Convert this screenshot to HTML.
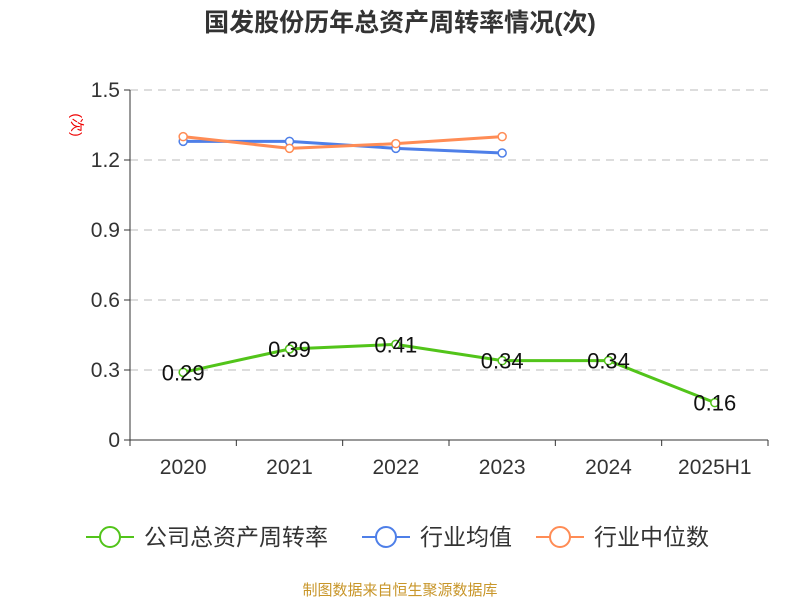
<!DOCTYPE html>
<html><head><meta charset="utf-8"><style>
body{margin:0;background:#fff;width:800px;height:600px;overflow:hidden;font-family:"Liberation Sans","Noto Sans CJK SC",sans-serif}
</style></head><body>
<svg width="800" height="600" xmlns="http://www.w3.org/2000/svg">
<text x="400" y="31" text-anchor="middle" font-size="25" font-weight="bold" fill="#333">国发股份历年总资产周转率情况(次)</text>
<text x="72" y="125" text-anchor="middle" font-size="14" fill="#e00" transform="rotate(90 72 125)">(次)</text>
<g id="grid"></g><g id="axes"></g><g id="series"></g>
<g>
 <g><line x1="86" y1="537" x2="134" y2="537" stroke="#52c41a" stroke-width="2"/><circle cx="110" cy="537" r="10" fill="#fff" stroke="#52c41a" stroke-width="2"/><text x="144" y="545" font-size="23" fill="#333">公司总资产周转率</text></g>
 <g><line x1="362" y1="537" x2="410" y2="537" stroke="#4e7fe8" stroke-width="2"/><circle cx="386" cy="537" r="10" fill="#fff" stroke="#4e7fe8" stroke-width="2"/><text x="420" y="545" font-size="23" fill="#333">行业均值</text></g>
 <g><line x1="536" y1="537" x2="584" y2="537" stroke="#ff8c55" stroke-width="2"/><circle cx="560" cy="537" r="10" fill="#fff" stroke="#ff8c55" stroke-width="2"/><text x="594" y="545" font-size="23" fill="#333">行业中位数</text></g>
</g>
<text x="400" y="595" text-anchor="middle" font-size="15" fill="#c8962a">制图数据来自恒生聚源数据库</text>
</svg>
<script>
const categories=["2020","2021","2022","2023","2024","2025H1"];
const companyValues=[0.29,0.39,0.41,0.34,0.34,0.16];
const industryAvg=[1.28,1.28,1.25,1.23];
const industryMedian=[1.30,1.25,1.27,1.30];
const yTicks=[0,0.3,0.6,0.9,1.2,1.5];
const yTickLabels=["0","0.3","0.6","0.9","1.2","1.5"];
const NS="http://www.w3.org/2000/svg";
const x0=130,x1=768,y0=440,y1=90,yMax=1.5;
const bw=(x1-x0)/categories.length;
const xs=i=>x0+bw*(i+0.5);
const ys=v=>y0-(v/yMax)*(y0-y1);
function mk(tag,attrs,parent){const e=document.createElementNS(NS,tag);for(const k in attrs)e.setAttribute(k,attrs[k]);parent.appendChild(e);return e;}
const grid=document.getElementById('grid'),axes=document.getElementById('axes'),ser=document.getElementById('series');
yTicks.forEach((t,i)=>{
 if(t>0){const l=mk('line',{x1:x0,x2:x1,y1:ys(t),y2:ys(t),stroke:'#bbb','stroke-dasharray':'8,6'},grid);
 
 }
 const tk=mk('line',{x1:x0-6,x2:x0,y1:ys(t),y2:ys(t),stroke:'#333'},axes);
 
 
 const tx=mk('text',{x:x0-10,y:ys(t)+7,'text-anchor':'end','font-size':21,fill:'#333'},axes);
 tx.textContent=yTickLabels[i];
 
 
});
const ya=mk('line',{x1:x0,x2:x0,y1:y1,y2:y0,stroke:'#333'},axes);


const xa=mk('line',{x1:x0,x2:x1,y1:y0,y2:y0,stroke:'#333'},axes);


for(let i=0;i<=categories.length;i++){
 const tk=mk('line',{x1:x0+bw*i,x2:x0+bw*i,y1:y0,y2:y0+6,stroke:'#333'},axes);
 
 
}
categories.forEach((c,i)=>{
 const tx=mk('text',{x:xs(i),y:474,'text-anchor':'middle','font-size':21,fill:'#333'},axes);
 tx.textContent=c;
 
 
});
function line(vals,color,name,labels){
 const pts=vals.map((v,i)=>xs(i)+','+ys(v)).join(' ');
 const pl=mk('polyline',{points:pts,fill:'none',stroke:color,'stroke-width':3},ser);
 
 
 vals.forEach((v,i)=>{
  const c=mk('circle',{cx:xs(i),cy:ys(v),r:4,fill:'#fff',stroke:color,'stroke-width':1.5},ser);
  
  
  if(labels){const t=mk('text',{x:xs(i),y:ys(v)+8,'text-anchor':'middle','font-size':22,fill:'#111'},ser);
   t.textContent=v.toFixed(2);
   
   }
 });
}
line(industryAvg,'#4e7fe8','industry-avg',false);
line(industryMedian,'#ff8c55','industry-median',false);
line(companyValues,'#52c41a','company',true);
</script>
</body></html>
